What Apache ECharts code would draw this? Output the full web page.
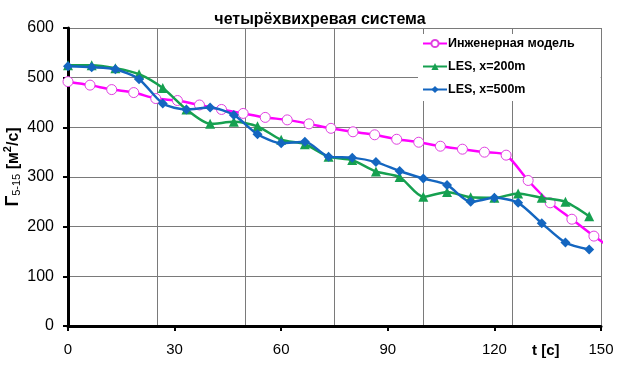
<!DOCTYPE html>
<html>
<head>
<meta charset="utf-8">
<script src="https://cdn.jsdelivr.net/npm/echarts@6/dist/echarts.min.js"></script>
<style>
html,body{margin:0;padding:0;background:#fff;}
#chart{width:623px;height:366px;}
</style>
</head>
<body>
<div id="chart"></div>
<script>
var titleText = 'четырёхвихревая система';
var seriesNames = ['Инженерная модель', 'LES, x=200m', 'LES, x=500m'];
var xTicks = [0, 30, 60, 90, 120, 150];
var yTicks = [0, 100, 200, 300, 400, 500, 600];

var modelT = [0, 6.2, 12.3, 18.5, 24.7, 30.8, 37, 43.2, 49.3, 55.5, 61.7, 67.8, 74, 80.2, 86.3, 92.5, 98.7, 104.8, 111, 117.2, 123.3, 129.5, 135.7, 141.8, 148, 154.2];
var modelV = [492, 485, 476, 470, 458, 454, 445, 436, 428, 420, 415, 407, 398, 391, 385, 376, 370, 362, 356, 350, 344, 293, 248, 215, 181, 150];

var lesT = [0, 6.67, 13.33, 20, 26.67, 33.33, 40, 46.67, 53.33, 60, 66.67, 73.33, 80, 86.67, 93.33, 100, 106.67, 113.33, 120, 126.67, 133.33, 140, 146.67];
var les200V = [525, 525, 519, 507, 479, 436, 407, 411, 402, 375, 366, 341, 334, 311, 300, 260, 270, 259, 258, 267, 258, 250, 221];
var les500V = [523, 521, 517, 497, 448, 436, 440, 425, 386, 368, 371, 341, 339, 330, 312, 297, 284, 250, 258, 248, 207, 168, 154];

function pairs(ts, vs) {
  return ts.map(function (t, i) { return [t, vs[i]]; });
}
var modelData = pairs(modelT, modelV).map(function (p, i) {
  return (i === modelT.length - 1) ? { value: p, symbol: 'none' } : p;
});

var chart = echarts.init(document.getElementById('chart'), null, { renderer: 'canvas' });
var font = 'Arial, "Liberation Sans", sans-serif';
var option = {
  animation: false,
  backgroundColor: '#fff',
  textStyle: { fontFamily: font },
  title: {
    text: titleText,
    left: 315, top: 7, textAlign: 'center',
    textStyle: { fontSize: 16, fontWeight: 'bold', color: '#000', fontFamily: font }
  },
  grid: { left: 68, right: 22, top: 28, bottom: 40, containLabel: false, outerBoundsMode: 'none' },
  legend: {
    orient: 'vertical',
    left: 418, top: 34,
    itemWidth: 24, itemHeight: 9, itemGap: 10,
    backgroundColor: '#fff',
    padding: [3, 26, 5, 4],
    textStyle: { fontSize: 12.5, fontWeight: 'bold', color: '#000', fontFamily: font, padding: [0, 0, 0, -4] },
    data: seriesNames
  },
  xAxis: [{
    type: 'value', min: xTicks[0], max: xTicks[xTicks.length - 1], interval: 30,
    axisLine: { show: true, lineStyle: { color: '#000', width: 3 } },
    axisTick: { show: true, length: 5, lineStyle: { color: '#000', width: 2 } },
    axisLabel: { fontSize: 15, color: '#000', margin: 16, fontFamily: font,
      formatter: function (v) { return xTicks.indexOf(v) >= 0 ? String(v) : ''; } },
    splitLine: { show: false }
  }, {
    type: 'value', min: 0, max: 150, interval: 25, position: 'bottom',
    axisLine: { show: false }, axisTick: { show: false }, axisLabel: { show: false },
    splitLine: { show: true, lineStyle: { color: '#7a7a7a', width: 1 } }
  }],
  yAxis: {
    type: 'value', min: yTicks[0], max: yTicks[yTicks.length - 1], interval: 100,
    axisLine: { show: true, lineStyle: { color: '#000', width: 3 } },
    axisTick: { show: true, length: 5, inside: false, lineStyle: { color: '#000', width: 2 } },
    axisLabel: { fontSize: 16, color: '#000', margin: 14, fontFamily: font },
    splitLine: { show: true, lineStyle: { color: '#7a7a7a', width: 1 } },
    name: '{g|Γ}{s|5-15}{u| [м}{p|2}{u|/с]}',
    nameLocation: 'middle', nameRotate: 90, nameGap: 46, nameMoveOverlap: false,
    nameTextStyle: {
      padding: [0, 0, 0, 20],
      rich: {
        g: { fontSize: 18, fontWeight: 'bold', color: '#000', fontFamily: font, verticalAlign: 'bottom', lineHeight: 20 },
        s: { fontSize: 11, color: '#000', fontFamily: font, verticalAlign: 'bottom', lineHeight: 13, padding: [7, 0, 0, 0] },
        u: { fontSize: 16, fontWeight: 'bold', color: '#000', fontFamily: font, verticalAlign: 'bottom', lineHeight: 20 },
        p: { fontSize: 11, fontWeight: 'bold', color: '#000', fontFamily: font, verticalAlign: 'top', lineHeight: 20 }
      }
    }
  },
  graphic: [{
    type: 'text', left: 532, top: 343,
    style: { text: 't [c]', fontSize: 15, fontWeight: 'bold', fill: '#000', fontFamily: font }
  }],
  series: [{
    name: seriesNames[0], type: 'line', xAxisIndex: 0, smooth: 0.25, clip: true,
    data: modelData,
    symbol: 'circle', symbolSize: 10, showAllSymbol: true,
    lineStyle: { color: '#ff00ff', width: 2.5 },
    itemStyle: { color: '#ffffff', borderColor: '#e040e0', borderWidth: 1 },
    z: 3
  }, {
    name: seriesNames[1], type: 'line', xAxisIndex: 0, smooth: 0.25,
    data: pairs(lesT, les200V),
    symbol: 'triangle', symbolSize: 10, showAllSymbol: true,
    lineStyle: { color: '#16a050', width: 2.5 },
    itemStyle: { color: '#16a050' },
    z: 4
  }, {
    name: seriesNames[2], type: 'line', xAxisIndex: 0, smooth: 0.25,
    data: pairs(lesT, les500V),
    symbol: 'diamond', symbolSize: 10, showAllSymbol: true,
    lineStyle: { color: '#1466c0', width: 2.5 },
    itemStyle: { color: '#1466c0' },
    z: 5
  }]
};
chart.setOption(option);
</script>
</body>
</html>
